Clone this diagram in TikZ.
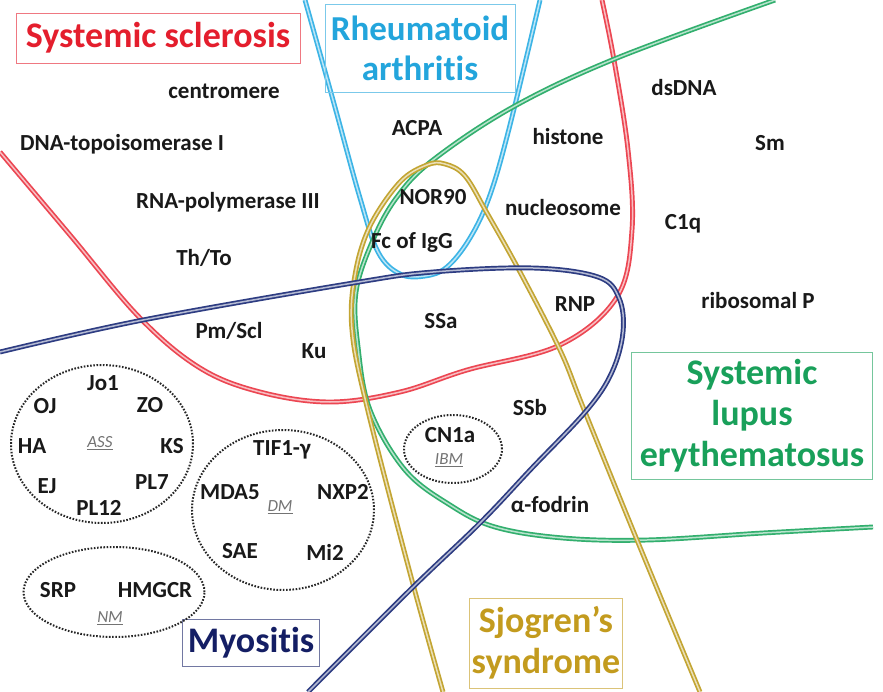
\documentclass[tikz,border=0pt]{standalone}
\usepackage{fontspec}
\setmainfont{Carlito}[Ligatures={NoCommon}]
\usetikzlibrary{shapes.geometric}
\definecolor{sscT}{RGB}{228,30,45}
\definecolor{sscL}{RGB}{236,70,82}
\definecolor{raT}{RGB}{35,165,220}
\definecolor{raL}{RGB}{60,180,230}
\definecolor{sleT}{RGB}{25,160,90}
\definecolor{sleL}{RGB}{50,175,110}
\definecolor{sjT}{RGB}{195,155,30}
\definecolor{sjL}{RGB}{195,165,50}
\definecolor{myT}{RGB}{20,30,100}
\definecolor{myL}{RGB}{45,60,130}
\definecolor{lbl}{RGB}{25,25,25}
\tikzset{
  ring/.style={line width=1.7pt, double distance=1.5pt, draw=#1, double=#1!35!white},
  lab/.style={font=\fontsize{23}{25}\selectfont\bfseries, text=lbl, inner sep=0pt},
  sub/.style={font=\fontsize{17}{19}\selectfont\itshape, text=black!55, inner sep=0pt},
  title/.style={draw=#1!60!white, line width=0.8pt, text=#1, font=\fontsize{36}{41}\selectfont\bfseries, align=center, inner sep=0pt},
  grp/.style={draw=black!85, line width=2pt, dash pattern=on 1.6pt off 1.6pt, ellipse}
}
\begin{document}
\begin{tikzpicture}[x=1pt,y=-1pt]
\useasboundingbox (0,0) rectangle (883,692);
\fill[white] (0,0) rectangle (883,692);

% disease curves
\draw[ring=sscL] plot[smooth, tension=0.6] coordinates {(0,152) (70,235) (140,318) (200,368) (260,392) (330,402) (400,392) (467,370) (560,345) (617,297) (632,230) (628,150) (614,60) (602,0)};
\draw[ring=raL] plot[smooth, tension=0.6] coordinates {(305,0) (333,100) (360,198) (378,252) (400,274) (425,276) (447,267) (470,238) (490,195) (510,125) (540,0)};
\draw[ring=sleL] plot[smooth, tension=0.6] coordinates {(775,0) (617,58) (513,107) (433,160) (397,197) (373,240) (356,292) (358,347) (370,410) (405,470) (450,505) (495,527) (563,538) (647,540) (763,533) (873,527)};
\draw[ring=sjL] plot[smooth, tension=0.6] coordinates {(443,692) (410,573) (367,407) (352,330) (355,275) (370,226) (400,182) (427,165) (445,164) (465,176) (487,213) (520,272) (560,350) (583,407) (637,540) (700,692)};
\draw[ring=myL] plot[smooth, tension=0.6] coordinates {(0,352) (143,320) (353,283) (433,272) (533,268) (598,277) (619,298) (623,332) (612,372) (587,410) (532,468) (480,523) (410,590) (308,692)};

% titles
\node[title=sscT, minimum width=284pt, minimum height=50pt] (tssc) at (158,38) {Systemic sclerosis};
\node[title=raT, font=\fontsize{35}{40}\selectfont\bfseries, minimum width=190pt, minimum height=88pt] (tra) at (420,48) {Rheumatoid\\arthritis};
\node[title=sleT, minimum width=241pt, minimum height=127pt] (tsle) at (752,416) {Systemic\\lupus\\erythematosus};
\node[title=sjT, minimum width=153pt, minimum height=90pt] (tsj) at (546,643) {Sjogren’s\\syndrome};
\node[title=myT, minimum width=137pt, minimum height=47pt] (tmy) at (251,643) {Myositis};

% myositis groups
\node[grp, minimum width=182pt, minimum height=158pt] (gass) at (102,444) {};
\node[grp, minimum width=182pt, minimum height=160pt] (gdm) at (283,510) {};
\node[grp, minimum width=181pt, minimum height=90pt] (gnm) at (114,592) {};
\node[grp, minimum width=98pt, minimum height=68pt] (gibm) at (453,449) {};

% SSc labels
\node[lab] (centro) at (224,91) {centromere};
\node[lab] (topo) at (122,144) {DNA-topoisomerase I};
\node[lab] (rnap) at (228,202) {RNA-polymerase III};
\node[lab] (thto) at (204,258) {Th/To};
\node[lab] (pmscl) at (229,331) {Pm/Scl};
\node[lab] (ku) at (314,351) {Ku};
% RA
\node[lab] (acpa) at (417,128) {ACPA};
\node[lab] (nor) at (433,197) {NOR90};
\node[lab] (fc) at (412,242) {Fc of IgG};
% overlap
\node[lab] (ssa) at (441,321) {SSa};
\node[lab] (histone) at (568,137) {histone};
\node[lab] (nucl) at (563,208) {nucleosome};
\node[lab] (rnp) at (575,304) {RNP};
% SLE
\node[lab] (dsdna) at (684,88) {dsDNA};
\node[lab] (sm) at (770,143) {Sm};
\node[lab] (c1q) at (683,224) {C1q};
\node[lab] (ribo) at (758,301) {ribosomal P};
% Sjogren
\node[lab] (ssb) at (530,408) {SSb};
\node[lab] (fodrin) at (550,505) {α-fodrin};
% IBM
\node[lab] (cn1a) at (450,435) {CN1a};
\node[sub] (ibm) at (449,460) {\underline{IBM}};
% ASS
\node[lab] (jo1) at (103,383) {Jo1};
\node[lab] (oj) at (45,406) {OJ};
\node[lab] (zo) at (150,405) {ZO};
\node[lab] (ha) at (32,446) {HA};
\node[sub] (ass) at (100,443) {\underline{ASS}};
\node[lab] (ks) at (172,446) {KS};
\node[lab] (ej) at (47,486) {EJ};
\node[lab] (pl7) at (152,482) {PL7};
\node[lab] (pl12) at (99,508) {PL12};
% DM
\node[lab] (tif) at (282,450) {TIF1-γ};
\node[lab] (mda5) at (230,492) {MDA5};
\node[lab] (nxp2) at (343,492) {NXP2};
\node[sub] (dm) at (280,507) {\underline{DM}};
\node[lab] (sae) at (240,551) {SAE};
\node[lab] (mi2) at (325,552) {Mi2};
% NM
\node[lab] (srp) at (58,590) {SRP};
\node[lab] (hmgcr) at (155,590) {HMGCR};
\node[sub] (nm) at (110,618) {\underline{NM}};
\end{tikzpicture}
\end{document}
